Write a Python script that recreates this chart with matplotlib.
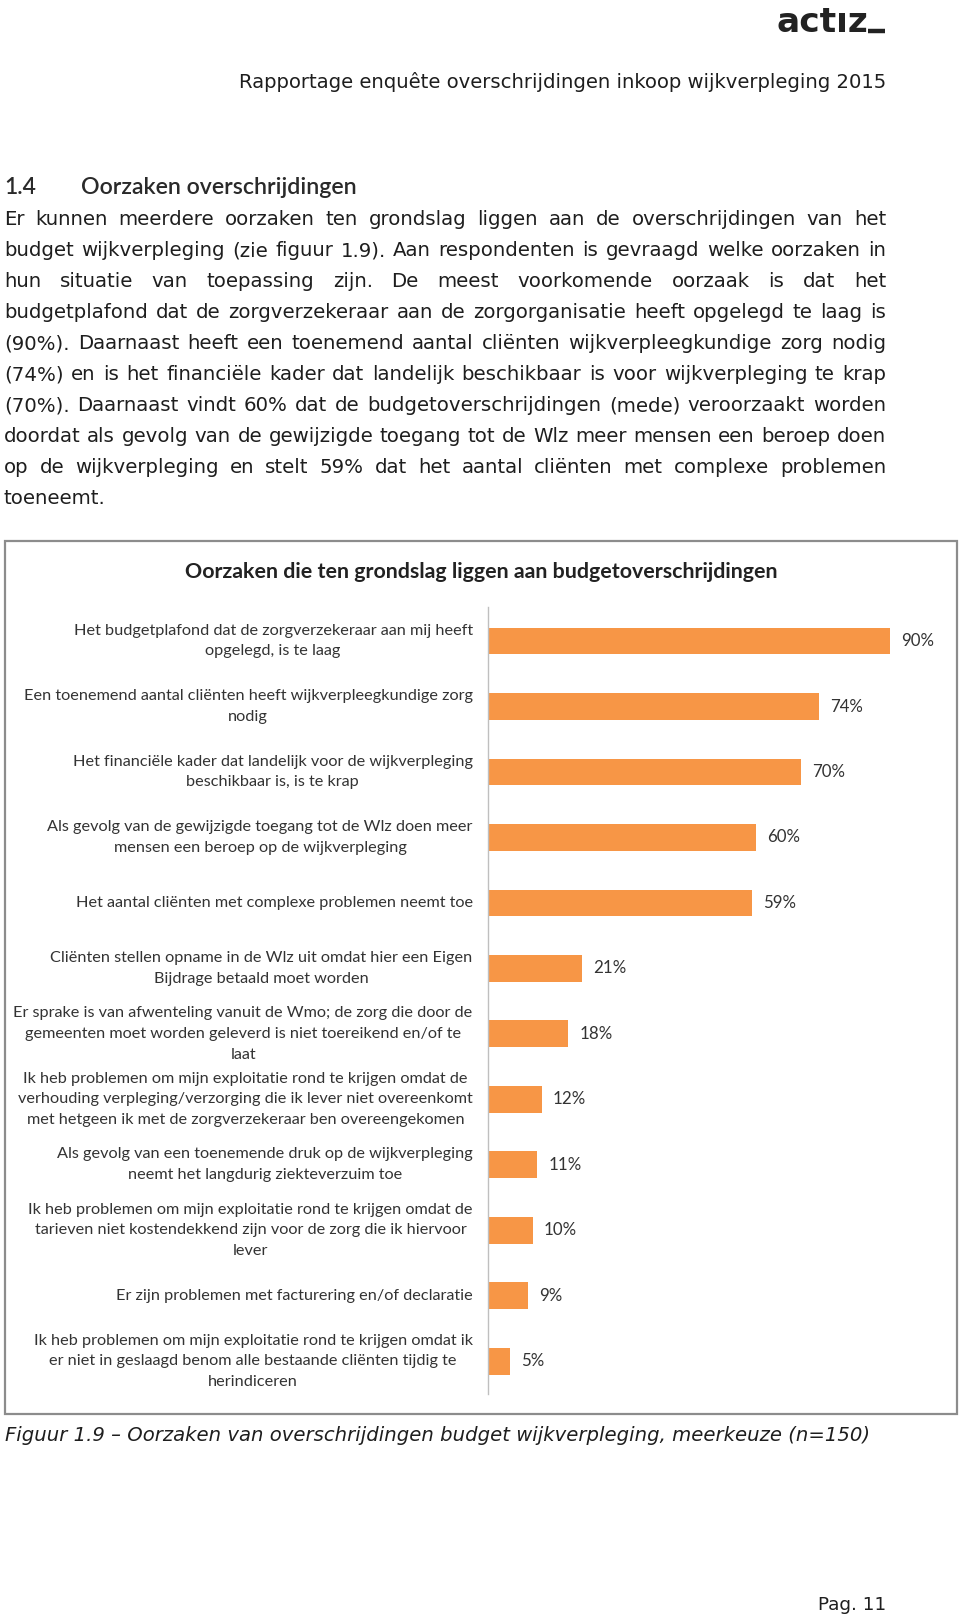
import matplotlib
matplotlib.use("Agg")
import matplotlib.pyplot as plt
from matplotlib.patches import Rectangle

# ---------------- data ----------------
categories = [
    "Het budgetplafond dat de zorgverzekeraar aan mij heeft\nopgelegd, is te laag",
    "Een toenemend aantal cliënten heeft wijkverpleegkundige zorg\nnodig",
    "Het financiële kader dat landelijk voor de wijkverpleging\nbeschikbaar is, is te krap",
    "Als gevolg van de gewijzigde toegang tot de Wlz doen meer\nmensen een beroep op de wijkverpleging",
    "Het aantal cliënten met complexe problemen neemt toe",
    "Cliënten stellen opname in de Wlz uit omdat hier een Eigen\nBijdrage betaald moet worden",
    "Er sprake is van afwenteling vanuit de Wmo; de zorg die door de\ngemeenten moet worden geleverd is niet toereikend en/of te\nlaat",
    "Ik heb problemen om mijn exploitatie rond te krijgen omdat de\nverhouding verpleging/verzorging die ik lever niet overeenkomt\nmet hetgeen ik met de zorgverzekeraar ben overeengekomen",
    "Als gevolg van een toenemende druk op de wijkverpleging\nneemt het langdurig ziekteverzuim toe",
    "Ik heb problemen om mijn exploitatie rond te krijgen omdat de\ntarieven niet kostendekkend zijn voor de zorg die ik hiervoor\nlever",
    "Er zijn problemen met facturering en/of declaratie",
    "Ik heb problemen om mijn exploitatie rond te krijgen omdat ik\ner niet in geslaagd benom alle bestaande cliënten tijdig te\nherindiceren",
]
percentages = [90, 74, 70, 60, 59, 21, 18, 12, 11, 10, 9, 5]
value_labels = [f"{v}%" for v in percentages]

chart_title = "Oorzaken die ten grondslag liggen aan budgetoverschrijdingen"
header_text = "Rapportage enquête overschrijdingen inkoop wijkverpleging 2015"
section_number = "1.4"
section_title = "Oorzaken overschrijdingen"
body_lines = [
    "Er kunnen meerdere oorzaken ten grondslag liggen aan de overschrijdingen van het",
    "budget wijkverpleging (zie figuur 1.9). Aan respondenten is gevraagd welke oorzaken in",
    "hun situatie van toepassing zijn. De meest voorkomende oorzaak is dat het",
    "budgetplafond dat de zorgverzekeraar aan de zorgorganisatie heeft opgelegd te laag is",
    "(90%). Daarnaast heeft een toenemend aantal cliënten wijkverpleegkundige zorg nodig",
    "(74%) en is het financiële kader dat landelijk beschikbaar is voor wijkverpleging te krap",
    "(70%). Daarnaast vindt 60% dat de budgetoverschrijdingen (mede) veroorzaakt worden",
    "doordat als gevolg van de gewijzigde toegang tot de Wlz meer mensen een beroep doen",
    "op de wijkverpleging en stelt 59% dat het aantal cliënten met complexe problemen",
    "toeneemt.",
]
caption = "Figuur 1.9 – Oorzaken van overschrijdingen budget wijkverpleging, meerkeuze (n=150)"
page_number = "Pag. 11"

# ---------------- page setup ----------------
W, H = 960, 1618
fig = plt.figure(figsize=(W / 100, H / 100), dpi=100)
fig.patch.set_facecolor("white")
page = fig.add_axes([0, 0, 1, 1])
page.set_xlim(0, W)
page.set_ylim(H, 0)
page.axis("off")
renderer = fig.canvas.get_renderer()

BODY_FONT = "DejaVu Sans"
CHART_FONT = "Lato"
TXT = "#1e1e1e"


def width_of(t):
    return t.get_window_extent(renderer).width


def fit_text(x, y, s, target_w, **kw):
    t = page.text(x, y, s, **kw)
    w = width_of(t)
    t.set_fontsize(t.get_fontsize() * target_w / w)
    return t


# logo
fit_text(776, 32, "actız", 92, fontsize=20, family="DejaVu Sans",
         fontweight="bold", color="#222222", ha="left", va="baseline")
page.plot([868, 885], [31, 31], color="#222222", lw=3.2, solid_capstyle="butt")

# header
fit_text(886, 88, header_text, 647, fontsize=12, family=BODY_FONT,
         color=TXT, ha="right", va="baseline")

# section heading
fit_text(4, 194, section_number, 32, fontsize=14, family="Lato",
         fontweight="semibold", color="#2a2a2a", ha="left", va="baseline")
fit_text(81, 194, section_title, 276, fontsize=14, family="Lato",
         fontweight="semibold", color="#2a2a2a", ha="left", va="baseline")

# justified paragraph
X0, X1 = 4, 886
base_fs = 12
ratios = []
for ln in body_lines[:-1]:
    t = page.text(0, 0, ln, fontsize=base_fs, family=BODY_FONT)
    ratios.append((X1 - X0) / width_of(t))
    t.remove()
body_fs = base_fs * min(ratios) * 0.992
y = 225
for i, ln in enumerate(body_lines):
    words = ln.split(" ")
    objs = [page.text(0, y, w, fontsize=body_fs, family=BODY_FONT, color=TXT,
                      ha="left", va="baseline") for w in words]
    widths = [width_of(o) for o in objs]
    if i < len(body_lines) - 1 and len(words) > 1:
        gap = ((X1 - X0) - sum(widths)) / (len(words) - 1)
    else:
        sp = page.text(0, 0, "a a", fontsize=body_fs, family=BODY_FONT)
        sa = page.text(0, 0, "aa", fontsize=body_fs, family=BODY_FONT)
        gap = width_of(sp) - width_of(sa)
        sp.remove(); sa.remove()
    x = X0
    for o, w in zip(objs, widths):
        o.set_x(x)
        x += w + gap
    y += 31

# chart frame
page.add_patch(Rectangle((5, 541), 952, 873, fill=False, ec="#8c8c8c", lw=1.6))

# chart title
fit_text(481, 578, chart_title, 597, fontsize=14, family=CHART_FONT,
         fontweight="bold", color="#222222", ha="center", va="baseline")

# caption and page number
fit_text(5, 1441, caption, 862, fontsize=12, family=BODY_FONT, style="italic",
         color=TXT, ha="left", va="baseline")
fit_text(886, 1610, page_number, 68, fontsize=12, family=BODY_FONT,
         color=TXT, ha="right", va="baseline")

# ---------------- bar chart ----------------
tmp = page.text(0, 0, categories[4], fontsize=10, family=CHART_FONT)
lab_fs = 10 * 398 / width_of(tmp)
tmp.remove()
t1 = page.text(0, 0, "Ab", fontsize=lab_fs, family=CHART_FONT, linespacing=1.2)
t2 = page.text(0, 0, "Ab\nAb", fontsize=lab_fs, family=CHART_FONT, linespacing=1.2)
pitch = t2.get_window_extent(renderer).height - t1.get_window_extent(renderer).height
t1.remove(); t2.remove()
lab_ls = 1.2 * 21.7 / pitch

tmp = page.text(0, 0, "74%", fontsize=10, family=CHART_FONT)
val_fs = 10 * 33 / width_of(tmp)
tmp.remove()

ax_left, ax_right = 488, 935
ax_top, ax_bottom = 607, 1394
ax = fig.add_axes([ax_left / W, 1 - ax_bottom / H, (ax_right - ax_left) / W,
                   (ax_bottom - ax_top) / H])
ax.set_facecolor("none")
ypos = list(range(len(categories)))
bars = ax.barh(ypos, percentages, height=0.41, color="#F79646", zorder=2)
ax.set_xlim(0, 100)
ax.set_ylim(len(categories) - 0.5, -0.52)
ax.set_yticks(ypos)
ax.set_yticklabels(categories, fontsize=lab_fs, family=CHART_FONT,
                   color="#333333", ha="right", va="center",
                   multialignment="center", linespacing=lab_ls)
ax.tick_params(axis="y", length=0, pad=11)
ax.set_xticks([])
for s in ["top", "right", "bottom"]:
    ax.spines[s].set_visible(False)
ax.spines["left"].set_color("#bfbfbf")
ax.spines["left"].set_linewidth(1.0)
ax.bar_label(bars, labels=value_labels, padding=8, fontsize=val_fs,
             family=CHART_FONT, color="#333333")

fig.savefig("out.png", dpi=100, facecolor="white")
